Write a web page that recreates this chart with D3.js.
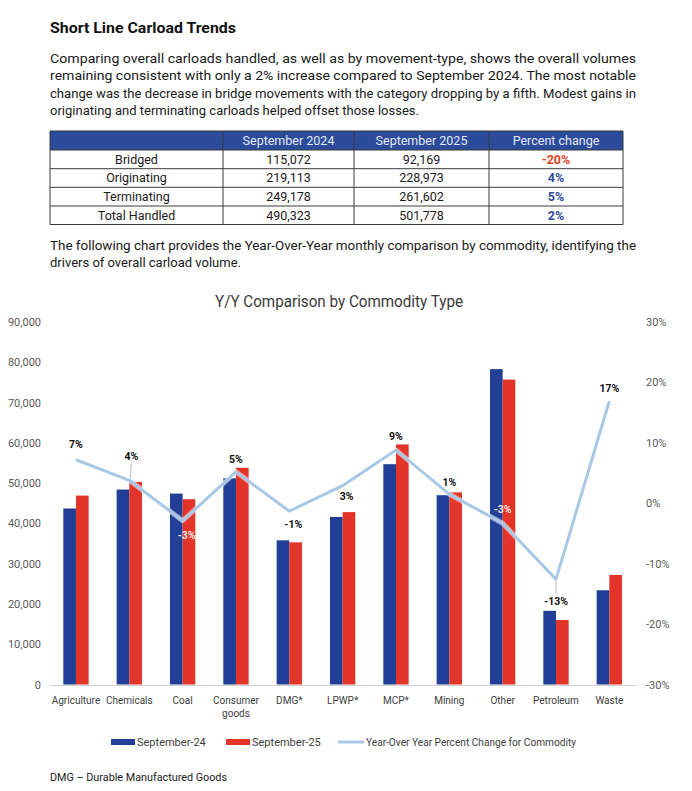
<!DOCTYPE html>
<html>
<head>
<meta charset="utf-8">
<script src="https://cdn.jsdelivr.net/npm/d3@7"></script>
<style>
  html, body { margin: 0; padding: 0; background: #fff; }
  svg { display: block; }
</style>
</head>
<body>
<svg id="page" width="692" height="791"></svg>
<script>
// ---------------- DATA ----------------
const pageTitle = "Short Line Carload Trends";
const introLines = [
  "Comparing overall carloads handled, as well as by movement-type, shows the overall volumes",
  "remaining consistent with only a 2% increase compared to September 2024. The most notable",
  "change was the decrease in bridge movements with the category dropping by a fifth. Modest gains in",
  "originating and terminating carloads helped offset those losses."
];
const tableHeaders = ["", "September 2024", "September 2025", "Percent change"];
const tableRowNames = ["Bridged", "Originating", "Terminating", "Total Handled"];
const tableSep2024 = [115072, 219113, 249178, 490323];
const tableSep2025 = [92169, 228973, 261602, 501778];
const tablePctChange = [-20, 4, 5, 2];
const followLines = [
  "The following chart provides the Year-Over-Year monthly comparison by commodity, identifying the",
  "drivers of overall carload volume."
];
const chartTitle = "Y/Y Comparison by Commodity Type";
const categories = ["Agriculture", "Chemicals", "Coal", "Consumer goods", "DMG*", "LPWP*", "MCP*", "Mining", "Other", "Petroleum", "Waste"];
const sep24 = [43700, 48400, 47400, 51200, 35800, 41600, 54700, 47000, 78300, 18300, 23400];
const sep25 = [46900, 50300, 46000, 53800, 35300, 42800, 59600, 47700, 75700, 16000, 27200];
const yoyPct = [7.2, 3.8, -2.9, 5.2, -1.3, 2.9, 8.8, 1.5, -3.3, -12.6, 16.9];
const yoyLabels = ["7%", "4%", "-3%", "5%", "-1%", "3%", "9%", "1%", "-3%", "-13%", "17%"];
const leftTicks = [0, 10000, 20000, 30000, 40000, 50000, 60000, 70000, 80000, 90000];
const rightTicks = [-30, -20, -10, 0, 10, 20, 30];
const seriesNames = ["September-24", "September-25", "Year-Over Year Percent Change for Commodity"];
const footnote = "DMG – Durable Manufactured Goods";

// ---------------- LAYOUT / STYLE ----------------
const FONT = "Roboto, 'Liberation Sans', sans-serif";
const BLUE = "#223f98";
const RED = "#e3342a";
const LINEC = "#a9c8e6";
// data-label placement (offset from point, px)
const labelDx = [0, 2, 4, 0, 4, 4, 0, 0, 0, 0, 0];
const labelDy = [-15, -24, 15, -13, 13, 11, -14, -12, -14, 22, -13];
const labelOnBar = [false, false, true, false, false, false, false, false, true, false, false];
const labelLeader = [false, true, false, false, false, false, false, false, false, true, false];

const svg = d3.select("#page");

// Title
svg.append("text").attr("x", 50).attr("y", 33)
  .attr("font-family", FONT).attr("font-weight", 700).attr("font-size", 15)
  .attr("fill", "#111").attr("textLength", 186).attr("lengthAdjust", "spacingAndGlyphs")
  .text(pageTitle);

// Intro paragraph
const introWidths = [586, 586, 586, 369];
introLines.forEach((t, i) => {
  svg.append("text").attr("x", 50).attr("y", 62.5 + i * 17.5)
    .attr("font-family", FONT).attr("font-size", 13).attr("fill", "#1a1a1a")
    .attr("textLength", introWidths[i]).attr("lengthAdjust", "spacingAndGlyphs")
    .text(t);
});

// Table
const colX = [50, 223, 354, 489, 623];
const rowY = [131, 150, 168.7, 187.3, 206, 224.5];
const tbl = svg.append("g");
tbl.append("rect").attr("x", colX[0]).attr("y", rowY[0]).attr("width", colX[4] - colX[0])
  .attr("height", rowY[1] - rowY[0]).attr("fill", "#2b4b9b");
tableHeaders.forEach((h, j) => {
  if (!h) return;
  tbl.append("text").attr("x", (colX[j] + colX[j + 1]) / 2).attr("y", rowY[0] + 14)
    .attr("text-anchor", "middle").attr("font-family", FONT).attr("font-size", 12.5)
    .attr("fill", "#e4e9f6").text(h);
});
const fmt = d3.format(",");
tableRowNames.forEach((r, i) => {
  const yb = rowY[i + 1] + 13.5;
  const cells = [r, fmt(tableSep2024[i]), fmt(tableSep2025[i]), tablePctChange[i] + "%"];
  cells.forEach((c, j) => {
    const t = tbl.append("text").attr("x", (colX[j] + colX[j + 1]) / 2).attr("y", yb)
      .attr("text-anchor", "middle").attr("font-family", FONT).attr("font-size", 12.5)
      .attr("fill", "#1a1a1a").text(c);
    if (j === 3) {
      t.attr("font-weight", 700).attr("fill", tablePctChange[i] < 0 ? "#e2421f" : "#2f4b9c");
    }
  });
});
// grid
rowY.slice(1).forEach(y => {
  tbl.append("line").attr("x1", colX[0]).attr("x2", colX[4]).attr("y1", y).attr("y2", y)
    .attr("stroke", "#3a3a3a").attr("stroke-width", 1);
});
colX.forEach(x => {
  tbl.append("line").attr("x1", x).attr("x2", x).attr("y1", rowY[0]).attr("y2", rowY[5])
    .attr("stroke", "#3a3a3a").attr("stroke-width", 1);
});
tbl.append("line").attr("x1", colX[0]).attr("x2", colX[4]).attr("y1", rowY[0]).attr("y2", rowY[0])
  .attr("stroke", "#3a3a3a");

// Follow-up paragraph
const followWidths = [586, 191];
followLines.forEach((t, i) => {
  svg.append("text").attr("x", 50).attr("y", 249.5 + i * 17.5)
    .attr("font-family", FONT).attr("font-size", 13).attr("fill", "#1a1a1a")
    .attr("textLength", followWidths[i]).attr("lengthAdjust", "spacingAndGlyphs")
    .text(t);
});

// ---------------- CHART ----------------
svg.append("text").attr("x", 339).attr("y", 307).attr("text-anchor", "middle")
  .attr("font-family", FONT).attr("font-size", 16).attr("fill", "#3a3a3a")
  .attr("textLength", 248).attr("lengthAdjust", "spacingAndGlyphs")
  .text(chartTitle);

const x = d3.scaleBand().domain(categories).range([49.3, 636]).paddingInner(0.525).paddingOuter(0.2625);
const xs = d3.scaleBand().domain([0, 1]).range([0, x.bandwidth()]);
const yL = d3.scaleLinear().domain([0, 90000]).range([684.5, 322]);
const yR = d3.scaleLinear().domain([-30, 30]).range([684.5, 322]);

// left axis
const axL = svg.append("g").attr("transform", "translate(41,0)")
  .call(d3.axisLeft(yL).tickValues(leftTicks).tickFormat(d3.format(",")).tickSize(0).tickPadding(0));
axL.select(".domain").remove();
axL.selectAll("text").attr("font-family", FONT).attr("font-size", 11).attr("fill", "#595959");

// right axis
const axR = svg.append("g").attr("transform", "translate(646,0)")
  .call(d3.axisRight(yR).tickValues(rightTicks).tickFormat(d => d + "%").tickSize(0).tickPadding(0));
axR.select(".domain").remove();
axR.selectAll("text").attr("font-family", FONT).attr("font-size", 11).attr("fill", "#595959");

// bars
const groups = svg.append("g").selectAll("g").data(categories).join("g")
  .attr("transform", d => `translate(${x(d)},0)`);
groups.append("rect").attr("x", xs(0)).attr("width", xs.bandwidth())
  .attr("y", (d, i) => yL(sep24[i])).attr("height", (d, i) => yL(0) - yL(sep24[i])).attr("fill", BLUE);
groups.append("rect").attr("x", xs(1)).attr("width", xs.bandwidth())
  .attr("y", (d, i) => yL(sep25[i])).attr("height", (d, i) => yL(0) - yL(sep25[i])).attr("fill", RED);

// baseline axis
const axB = svg.append("g").attr("transform", `translate(0,${yL(0) + 0.5})`)
  .call(d3.axisBottom(x).tickSize(0).tickPadding(0).tickFormat(""));
axB.select(".domain").attr("stroke", "#d0d0d0").attr("stroke-width", 1);

// x labels
categories.forEach(c => {
  const words = c === "Consumer goods" ? ["Consumer", "goods"] : [c];
  words.forEach((w, k) => {
    svg.append("text").attr("x", x(c) + x.bandwidth() / 2).attr("y", 703.5 + k * 13.5)
      .attr("text-anchor", "middle").attr("font-family", FONT).attr("font-size", 10)
      .attr("fill", "#404040").text(w);
  });
});

// line
const pts = categories.map((c, i) => [x(c) + x.bandwidth() / 2, yR(yoyPct[i])]);
svg.append("path").attr("d", d3.line()(pts)).attr("fill", "none")
  .attr("stroke", "#ffffff").attr("stroke-opacity", 0.5).attr("stroke-width", 5)
  .attr("stroke-linejoin", "round");
svg.append("path").attr("d", d3.line()(pts)).attr("fill", "none")
  .attr("stroke", LINEC).attr("stroke-width", 3).attr("stroke-linejoin", "round");

// data labels
pts.forEach((p, i) => {
  const lx = p[0] + labelDx[i], ly = p[1] + labelDy[i];
  if (labelLeader[i]) {
    const dir = Math.sign(labelDy[i]);
    svg.append("line").attr("x1", p[0] + labelDx[i] / 2).attr("x2", lx)
      .attr("y1", p[1] + dir * 2).attr("y2", ly - dir * 7)
      .attr("stroke", "#a6a6a6").attr("stroke-width", 0.8);
  }
  svg.append("text").attr("x", lx).attr("y", ly).attr("dy", "0.35em")
    .attr("text-anchor", "middle").attr("font-family", FONT).attr("font-size", 10.5)
    .attr("font-weight", 700).attr("fill", labelOnBar[i] ? "#fbe3e0" : "#111")
    .text(yoyLabels[i]);
});

// legend
const lg = svg.append("g").attr("font-family", FONT).attr("font-size", 11).attr("fill", "#404040");
lg.append("rect").attr("x", 111).attr("y", 739).attr("width", 24).attr("height", 6).attr("fill", BLUE);
lg.append("text").attr("x", 137).attr("y", 746).text(seriesNames[0]);
lg.append("rect").attr("x", 226).attr("y", 739).attr("width", 24).attr("height", 6).attr("fill", RED);
lg.append("text").attr("x", 252).attr("y", 746).text(seriesNames[1]);
lg.append("line").attr("x1", 338).attr("x2", 364).attr("y1", 742).attr("y2", 742)
  .attr("stroke", LINEC).attr("stroke-width", 3);
lg.append("text").attr("x", 366).attr("y", 746).attr("textLength", 210)
  .attr("lengthAdjust", "spacingAndGlyphs").text(seriesNames[2]);

// footnote
svg.append("text").attr("x", 50).attr("y", 781).attr("font-family", FONT).attr("font-size", 11.5)
  .attr("fill", "#1a1a1a").attr("textLength", 177).attr("lengthAdjust", "spacingAndGlyphs")
  .text(footnote);
</script>
</body>
</html>
